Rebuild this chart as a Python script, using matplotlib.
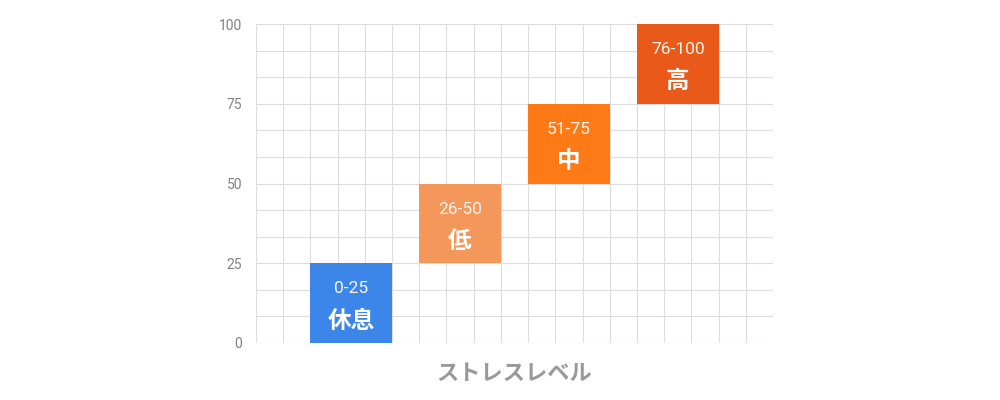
import numpy as np
import matplotlib.pyplot as plt
from matplotlib.ticker import MultipleLocator

# stress levels
levels = ["休息", "低", "中", "高"]
ranges = ["0-25", "26-50", "51-75", "76-100"]
low = [0, 25, 50, 75]
high = [25, 50, 75, 100]
colors = ["#3b86e8", "#f4975a", "#fe7a17", "#e8591a"]
yticks = [0, 25, 50, 75, 100]

plt.rcParams['font.family'] = ['Noto Sans CJK JP', 'DejaVu Sans']

fig = plt.figure(figsize=(10, 4), dpi=100)
ax = fig.add_axes([0.256, 0.1425, 0.517, 0.7975])

n = len(levels)
centers = np.arange(n) * 4 + 3.5
bottoms = np.array(low)
heights = np.array(high) - bottoms
ax.bar(centers, heights, bottom=bottoms, width=3, color=colors, zorder=3)

for c, b, h, r, name in zip(centers, bottoms, heights, ranges, levels):
    ax.text(c, b + h * 0.68, r, ha="center", va="center", color="#fff2e8",
            fontsize=12.5, family=["Roboto", "DejaVu Sans"], zorder=4)
    ax.text(c, b + h * 0.28, name, ha="center", va="center", color="white",
            fontsize=17, fontweight="bold", zorder=4)

ax.set_xlim(0, 19)
ax.set_ylim(0, 100)
ax.xaxis.set_major_locator(MultipleLocator(1))
ax.set_xticklabels([])
ax.set_yticks(yticks)
ax.yaxis.set_minor_locator(MultipleLocator(25 / 3))
ax.tick_params(axis="both", which="both", length=0)
ax.tick_params(axis="y", pad=10, labelsize=10, labelcolor="#808080")
for t in ax.get_yticklabels():
    t.set_family(["Roboto", "DejaVu Sans"])
ax.grid(True, which="both", color="#dddddd", lw=0.8, zorder=0)
for s in ax.spines.values():
    s.set_visible(False)

ax.set_xlabel("ストレスレベル", fontsize=16, fontweight="bold", color="#999999", labelpad=10)

fig.savefig("out.png")
